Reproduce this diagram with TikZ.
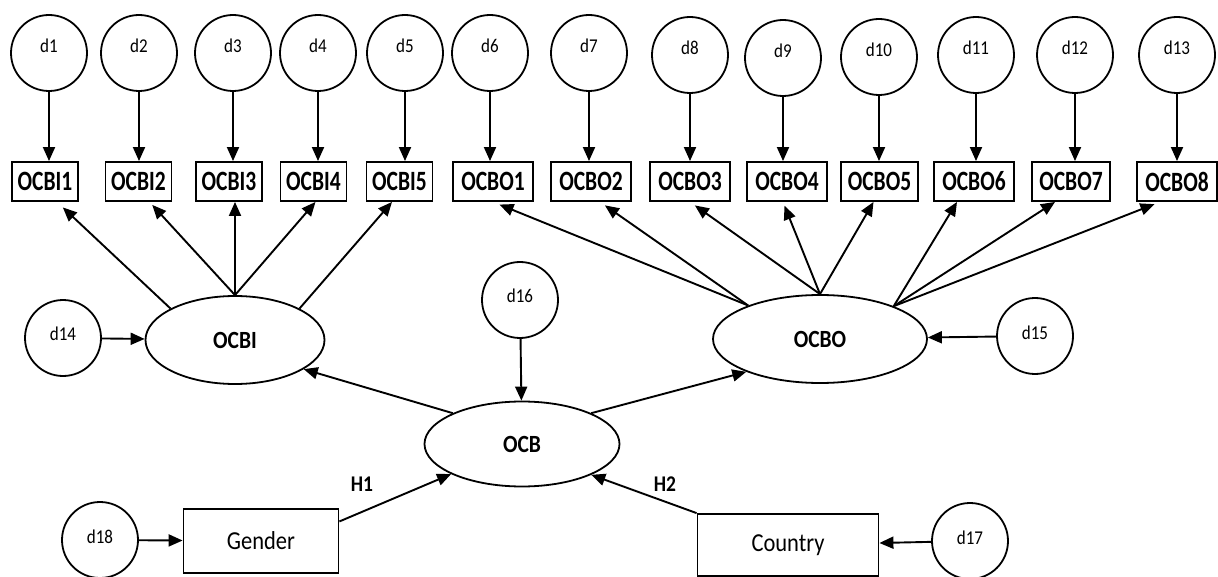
\documentclass[tikz,border=0pt]{standalone}
\usepackage{fontspec}
\setmainfont{Carlito}
\usepackage{graphicx}
\usetikzlibrary{arrows.meta,shapes.geometric}
\newcommand{\tall}[1]{\scalebox{1}[1.15]{#1}}
\newcommand{\tallb}[1]{\scalebox{1}[1.3]{#1}}

\begin{document}
\begin{tikzpicture}%
[x=1pt, y=-1pt,%
err/.style={draw, circle, line width=1.8pt, minimum size=76pt, inner sep=0pt, font=\fontsize{17}{17}\selectfont},%
toperr/.style={err, text height=12pt, text depth=12pt},%
sideerr/.style={err, text height=14pt, text depth=8pt},%
ind/.style={draw, rectangle, line width=1.9pt, minimum height=39pt, inner sep=0pt, font=\fontsize{21.5}{21.5}\selectfont\bfseries},%
indi/.style={ind, minimum width=66pt},%
indo/.style={ind, minimum width=80pt},%
lat/.style={draw, ellipse, line width=1.8pt, inner sep=0pt, font=\fontsize{21.5}{21.5}\selectfont\bfseries},%
obs/.style={draw, rectangle, line width=1.8pt, inner sep=0pt, font=\fontsize{22.5}{22.5}\selectfont},%
hyp/.style={font=\fontsize{19.5}{19.5}\selectfont\bfseries},%
link/.style={-{Triangle[length=14pt,width=12pt]}, line width=1.9pt}]
\useasboundingbox (0,0) rectangle (1218,577);

\node[toperr] (d1) at (49,53) {\tall{d1}};
\node[toperr] (d2) at (139,53) {\tall{d2}};
\node[toperr] (d3) at (233,53) {\tall{d3}};
\node[toperr] (d4) at (318,53) {\tall{d4}};
\node[toperr] (d5) at (405,53) {\tall{d5}};
\node[toperr] (d6) at (490,53) {\tall{d6}};
\node[toperr] (d7) at (589,53) {\tall{d7}};
\node[toperr] (d8) at (690,55) {\tall{d8}};
\node[toperr] (d9) at (783,58) {\tall{d9}};
\node[toperr] (d10) at (879,57) {\tall{d10}};
\node[toperr] (d11) at (976,55) {\tall{d11}};
\node[toperr] (d12) at (1075,55) {\tall{d12}};
\node[toperr] (d13) at (1177,55) {\tall{d13}};

\node[indi] (i1) at (45,181.5) {\tallb{OCBI1}};
\node[indi] (i2) at (138.5,181.5) {\tallb{OCBI2}};
\node[indi] (i3) at (229,181.5) {\tallb{OCBI3}};
\node[indi] (i4) at (313.5,181.5) {\tallb{OCBI4}};
\node[indi] (i5) at (399.5,181.5) {\tallb{OCBI5}};
\node[indo] (o1) at (493,181.5) {\tallb{OCBO1}};
\node[indo] (o2) at (591,181.5) {\tallb{OCBO2}};
\node[indo] (o3) at (690,181.5) {\tallb{OCBO3}};
\node[indo] (o4) at (787,181.5) {\tallb{OCBO4}};
\node[indo, minimum width=77pt] (o5) at (879.5,181.5) {\tallb{OCBO5}};
\node[indo] (o6) at (974,181.5) {\tallb{OCBO6}};
\node[indo, minimum width=78pt] (o7) at (1071,181.5) {\tallb{OCBO7}};
\node[indo] (o8) at (1177,181.5) {\tallb{OCBO8}};

\node[lat, minimum width=179pt, minimum height=88pt] (ocbi) at (235,340) {\tall{OCBI}};
\node[lat, minimum width=214pt, minimum height=88pt] (ocbo) at (820,339) {\tall{OCBO}};
\node[lat, minimum width=195pt, minimum height=85pt] (ocb) at (522,444) {\tall{OCB}};

\node[sideerr] (d14) at (63,338) {\tall{d14}};
\node[sideerr] (d15) at (1035,336) {\tall{d15}};
\node[sideerr] (d16) at (520,300) {\tall{d16}};
\node[sideerr] (d17) at (970,541) {\tall{d17}};
\node[sideerr] (d18) at (100,540) {\tall{d18}};

\node[obs, minimum width=155pt, minimum height=64pt] (gender) at (261,541) {\tall{Gender}};
\node[obs, minimum width=181pt, minimum height=62pt] (country) at (788,545) {\tall{Country}};
\node[hyp] (h1) at (362,484) {\tall{H1}};
\node[hyp] (h2) at (665,484) {\tall{H2}};

\draw[link] (d1) -- (d1 |- i1.north);
\draw[link] (d2) -- (d2 |- i2.north);
\draw[link] (d3) -- (d3 |- i3.north);
\draw[link] (d4) -- (d4 |- i4.north);
\draw[link] (d5) -- (d5 |- i5.north);
\draw[link] (d6) -- (d6 |- o1.north);
\draw[link] (d7) -- (d7 |- o2.north);
\draw[link] (d8) -- (d8 |- o3.north);
\draw[link] (d9) -- (d9 |- o4.north);
\draw[link] (d10) -- (d10 |- o5.north);
\draw[link] (d11) -- (d11 |- o6.north);
\draw[link] (d12) -- (d12 |- o7.north);
\draw[link] (d13) -- (d13 |- o8.north);

\draw[link, shorten >=8pt] (ocbi.154) -- ([xshift=12pt]i1.south);
\draw[link, shorten >=4pt] (ocbi.north) -- ([xshift=11pt]i2.south);
\draw[link] (ocbi.north) -- ([xshift=6pt]i3.south);
\draw[link] (ocbi.north) -- ([xshift=2pt]i4.south);
\draw[link] (ocbi.26) -- ([xshift=-7.5pt]i5.south);

\draw[link, shorten >=7pt] (ocbo.155) -- (o1.south);
\draw[link, shorten >=6pt] (ocbo.155) -- ([xshift=9pt]o2.south);
\draw[link, shorten >=6pt] (ocbo.north) -- (o3.south);
\draw[link, shorten >=4pt] (ocbo.north) -- ([xshift=-4pt]o4.south);
\draw[link] (ocbo.north) -- ([xshift=-6pt]o5.south);
\draw[link] (ocbo.24) -- ([xshift=-17pt]o6.south);
\draw[link] (ocbo.24) -- ([xshift=-16pt]o7.south);
\draw[link, shorten >=6pt] (ocbo.24) -- ([xshift=-17pt]o8.south);

\draw[link] (d14) -- (ocbi);
\draw[link] (d15) -- (ocbo);
\draw[link] (d16) -- (ocb);
\draw[link] (ocb.156) -- (ocbi.337);
\draw[link] (ocb.24) -- (ocbo.204);
\draw[link] (gender.14) -- (ocb.203);
\draw[link] (country.north west) -- (ocb.336);
\draw[link] (d18) -- (gender);
\draw[link] (d17) -- (country);
\end{tikzpicture}
\end{document}
